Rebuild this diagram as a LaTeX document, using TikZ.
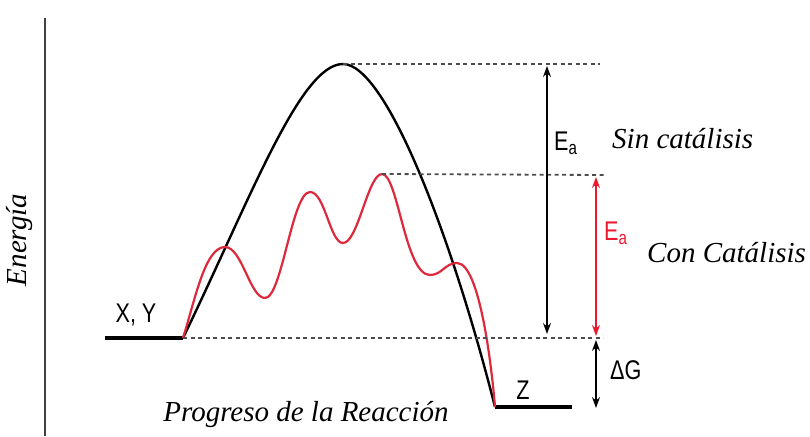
\documentclass[tikz,border=0pt]{standalone}
\usepackage{fontspec}
\setmainfont{Liberation Serif}
\newfontfamily\lblsans[FakeStretch=0.8]{Liberation Sans}
\usetikzlibrary{arrows.meta}
\definecolor{catred}{RGB}{222,40,60}
\definecolor{arrred}{RGB}{235,25,45}

\begin{document}
\begin{tikzpicture}[
        x=1pt, y=-1pt,
        curve/.style={line width=2.4pt, line join=round},
        level/.style={line width=4pt},
        guide/.style={line width=1.8pt, draw=black!70, dash pattern=on 4pt off 3.5pt},
        dbl/.style={line width=1.4pt, {Stealth[length=11pt,width=8pt]}-{Stealth[length=11pt,width=8pt]}},
        sans/.style={font=\lblsans\fontsize{27}{29}\selectfont, inner sep=0pt},
        caption/.style={font=\fontsize{29}{32}\selectfont\itshape, inner sep=0pt},
    ]
    \useasboundingbox (0,0) rectangle (810,436);

    %% energy axis
    \coordinate (axTop) at (45,18);
    \coordinate (axBot) at (45,436);
    \draw[line width=1.8pt, draw=black!75] (axTop) -- (axBot);
    \node[caption, rotate=90] (energia) at (20,240) {Energía};

    %% levels of reactants and product
    \coordinate (reactL) at (105,338);
    \coordinate (react) at (183,338);
    \coordinate (prod) at (495,407);
    \coordinate (prodR) at (572,407);
    \draw[level] (reactL) -- (react);
    \draw[level] (prod) -- (prodR);
    \node[sans] (xy) at (136,315) {X, Y};
    \node[sans] (z) at (523,390) {Z};

    %% path without catalyst
    \coordinate (peak) at (343,64);
    \draw[curve] (react) .. controls (250,200) and (300,64) .. (peak)
        .. controls (385,64) and (450,230) .. (prod);

    %% path with catalyst
    \coordinate (p1) at (225,247);
    \coordinate (m1) at (265,298);
    \coordinate (p2) at (310,192);
    \coordinate (m2) at (343,243);
    \coordinate (cpeak) at (382,174);
    \coordinate (m3) at (430,275);
    \coordinate (p4) at (457,263);
    \draw[curve, line width=2.2pt, draw=catred] (react) .. controls (195,300) and (205,247) .. (p1)
        .. controls (242,247) and (250,298) .. (m1)
        .. controls (282,298) and (292,192) .. (p2)
        .. controls (325,192) and (330,243) .. (m2)
        .. controls (358,243) and (368,174) .. (cpeak)
        .. controls (398,174) and (405,275) .. (m3)
        .. controls (442,275) and (445,263) .. (p4)
        .. controls (480,263) and (492,370) .. (prod);

    %% guide lines
    \coordinate (peakEnd) at (600,64);
    \coordinate (cpeakEnd) at (604,175);
    \coordinate (baseEnd) at (603,338);
    \draw[guide] (peak) -- (peakEnd);
    \draw[guide] (cpeak) -- (cpeakEnd);
    \draw[guide] (react) -- (baseEnd);

    %% energy differences
    \coordinate (eaTop) at (547,66);
    \coordinate (eaBot) at (547,334);
    \coordinate (ecTop) at (596,177);
    \coordinate (ecBot) at (596,336);
    \coordinate (dgTop) at (596,340);
    \coordinate (dgBot) at (596,408);
    \draw[dbl] (eaTop) -- (eaBot);
    \draw[dbl, draw=arrred, fill=arrred] (ecTop) -- (ecBot);
    \draw[dbl] (dgTop) -- (dgBot);

    \node[sans, anchor=west] (ea) at (554,143) {E\textsubscript{a}};
    \node[sans, anchor=west, text=arrred] (ec) at (604,233) {E\textsubscript{a}};
    \node[sans, anchor=west] (dg) at (610,370) {ΔG};
    \node[caption, anchor=west] (sin) at (612,139) {Sin catálisis};
    \node[caption, anchor=west] (con) at (647,253) {Con Catálisis};
    \node[caption] (prog) at (306,415) {Progreso de la Reacción};
\end{tikzpicture}
\end{document}
